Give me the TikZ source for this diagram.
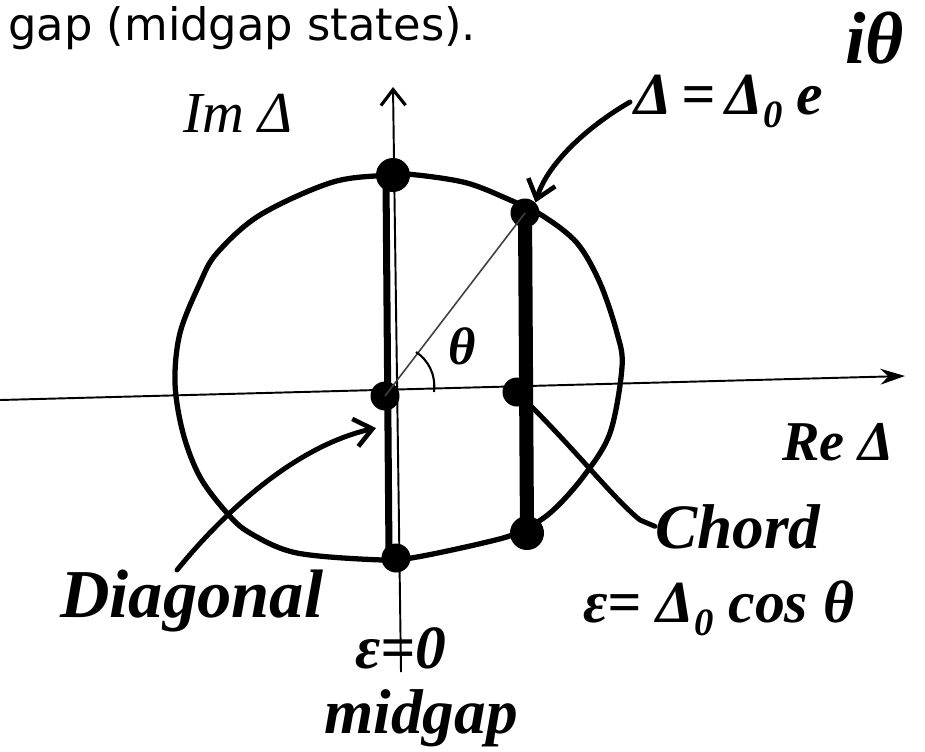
\documentclass[tikz,border=0pt]{standalone}
\usepackage{fontspec}
\newfontfamily\hdrfont{DejaVu Sans}
\newfontfamily\handfont{Liberation Serif}
\usetikzlibrary{arrows.meta}
\newcommand{\subz}{\raisebox{-0.22em}{\fontsize{22}{24}\selectfont 0}}
\begin{document}
\begin{tikzpicture}[x=0.02cm,y=-0.02cm,
  dot/.style={circle,fill=black,inner sep=0pt,minimum size=0.58cm},
  bigdot/.style={circle,fill=black,inner sep=0pt,minimum size=0.68cm},
  hand/.style={font=\handfont\fontsize{34}{40}\selectfont\bfseries\itshape,inner sep=0pt},
  ink/.style={line width=2.8pt,line cap=round,line join=round},
  axisline/.style={line width=1.1pt},
  barb/.style={-{Straight Barb[length=10pt,width=16pt,line width=2.6pt]}}
]
\useasboundingbox (0,0) rectangle (925,751);

% header text
\node[anchor=base west,inner sep=0pt,font=\hdrfont\fontsize{25.5}{30}\selectfont] (hdr) at (8,40) {gap (midgap states).};

% axes
\coordinate (axl) at (0,400);
\coordinate (axr) at (905,376);
\coordinate (axb) at (401,672);
\coordinate (axt) at (393,87);
\draw[axisline,-{Stealth[length=14pt,width=9pt]}] (axl) -- (axr);
\draw[axisline,-{Straight Barb[length=9pt,width=14pt,line width=1.8pt]}] (axb) -- (axt);

% circle
\draw[ink,line width=3pt] plot[smooth cycle,tension=0.55] coordinates {
 (393,175) (417,175) (467,183) (510,200) (543,216) (577,243) (600,283) (617,333)
 (622,367) (610,433) (583,477) (550,513) (517,533) (483,543) (417,557) (383,560)
 (297,553) (250,533) (227,513) (200,477) (183,433) (175,383) (180,333) (200,283)
 (217,253) (260,215) (333,182)};

% dots
\node[bigdot] (dtop) at (393,175) {};
\node[dot] (dorig) at (385,396) {};
\node[dot] (dbot) at (396,558) {};
\node[dot] (ctop) at (525,213) {};
\node[dot] (cmid) at (517,392) {};
\node[bigdot] (cbot) at (527,533) {};

% diagonal (thick) and chord (very thick)
\coordinate (dgt) at (386,180);
\coordinate (dgb) at (389,555);
\draw[line width=4pt] (dgt) -- (dgb);
\draw[line width=8pt,line cap=round] (ctop.center) -- (cbot.center);

% radius and angle
\draw[line width=0.9pt,black!75] (dorig.center) -- (ctop.center);
\coordinate (th1) at (434,392);
\coordinate (th2) at (416,352);
\draw[line width=1.2pt] (th1) .. controls (436,374) and (428,360) .. (th2);
\node[hand,font=\handfont\fontsize{30}{32}\selectfont\bfseries\itshape] (thl) at (462,346) {θ};

% labels
\node[hand,font=\handfont\fontsize{33}{36}\selectfont\itshape] (im) at (238,113) {Im Δ};
\node[hand,font=\handfont\fontsize{32}{36}\selectfont\bfseries\itshape] (re) at (838,442) {Re Δ};
\node[hand,anchor=base west] (fml) at (634,114)
  {Δ\,=\,Δ\subz\kern2pt\,e\kern13pt\raisebox{0.85em}{\fontsize{42}{46}\selectfont iθ}};
\node[hand,anchor=base west,font=\handfont\fontsize{36}{40}\selectfont\bfseries\itshape] (chord) at (655,548) {Chord};
\node[hand,anchor=base west] (eqc) at (583,622) {ε= Δ\subz\ cos θ};
\node[hand,anchor=base west,font=\handfont\fontsize{39}{44}\selectfont\bfseries\itshape] (diag) at (60,617) {Diagonal};
\node[hand,anchor=base,font=\handfont\fontsize{35}{40}\selectfont\bfseries\itshape] (eq0) at (401,668) {ε=0};
\node[hand,anchor=base,font=\handfont\fontsize{36}{44}\selectfont\bfseries\itshape] (mg) at (421,733) {midgap};

% connectors
\coordinate (fs) at (630,102);
\draw[ink,barb] (fs) .. controls (590,125) and (548,162) .. (ctop.north east);
\coordinate (ds) at (177,570);
\coordinate (dt) at (376,428);
\draw[ink,barb] (ds) .. controls (230,505) and (300,445) .. (dt);
\draw[ink] (cmid.south east) .. controls (580,455) and (615,500) .. (640,520) -- (chord.west);
\end{tikzpicture}
\end{document}
